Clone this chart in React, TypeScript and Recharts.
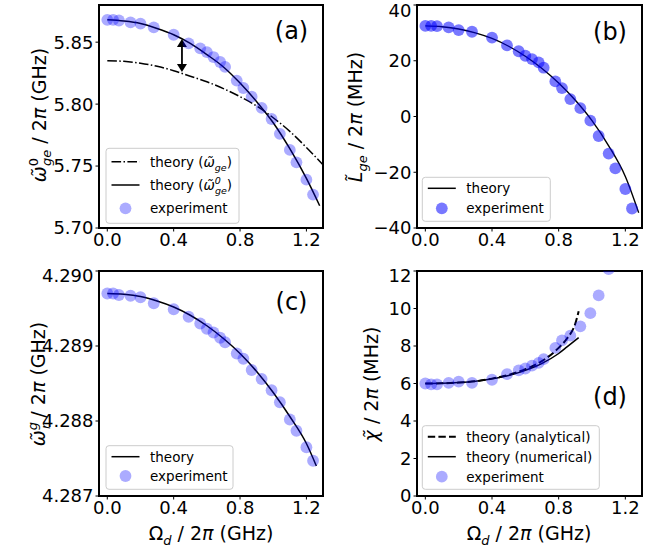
import React from "react";
import {
  ComposedChart,
  Scatter,
  Line,
  XAxis,
  YAxis,
  ReferenceArea,
  ReferenceLine,
} from "recharts";

// drive amplitudes (GHz) of the measured points
const drive = [
  0, 0.035, 0.07, 0.14, 0.2, 0.28, 0.4, 0.49, 0.56, 0.6, 0.64, 0.68, 0.71,
  0.78, 0.82, 0.87, 0.93, 0.99, 1.04, 1.1, 1.14, 1.2, 1.24,
];

// (a) qubit frequency
const omegaGeExp = [
  5.868, 5.868, 5.8675, 5.866, 5.865, 5.862, 5.856, 5.849, 5.845, 5.842, 5.838,
  5.834, 5.83, 5.819, 5.813, 5.806, 5.797, 5.788, 5.776, 5.763, 5.753, 5.739,
  5.727,
];
const omegaGe0X = [0, 0.1, 0.2, 0.3, 0.4, 0.5, 0.6, 0.7, 0.8, 0.9, 1.0, 1.1, 1.2, 1.28];
const omegaGe0Theory = [
  5.868, 5.867, 5.865, 5.861, 5.856, 5.849, 5.84, 5.83, 5.817, 5.802, 5.785,
  5.764, 5.74, 5.718,
];
const omegaGeX = [0, 0.1, 0.2, 0.3, 0.4, 0.5, 0.6, 0.7, 0.8, 0.9, 1.0, 1.1, 1.2, 1.3];
const omegaGeTheory = [
  5.835, 5.8345, 5.833, 5.8305, 5.827, 5.8225, 5.818, 5.8125, 5.806, 5.7985,
  5.789, 5.778, 5.765, 5.751,
];
const arrowX = 0.45;
const arrowLow = 5.826;
const arrowHigh = 5.8525;

// (b) Lamb shift
const lambExp = [
  32.5, 32.5, 32.4, 32, 31, 30.4, 28.3, 25.5, 23.4, 21.8, 20.6, 19.4, 17.5,
  12.6, 10.2, 6.25, 3.0, -1.5, -7.0, -13.3, -18.6, -26, -33,
];
const lambX = [0, 0.1, 0.2, 0.3, 0.4, 0.5, 0.6, 0.7, 0.8, 0.9, 1.0, 1.1, 1.2, 1.28];
const lambTheory = [
  32.5, 32.2, 31.4, 30.0, 28.0, 25.2, 21.6, 17.2, 12.0, 5.8, -1.5, -10.5, -21.5,
  -34.5,
];

// (c) resonator frequency
const omegaRExp = [
  4.2897, 4.2897, 4.28968, 4.28967, 4.28965, 4.28957, 4.28949, 4.28939,
  4.2893, 4.28923, 4.28918, 4.28911, 4.28905, 4.2889, 4.28883, 4.28868,
  4.28856, 4.28841, 4.28825, 4.28802, 4.28787, 4.28765, 4.28747,
];
const omegaRX = [0, 0.1, 0.2, 0.3, 0.4, 0.5, 0.6, 0.7, 0.8, 0.9, 1.0, 1.1, 1.2, 1.26];
const omegaRTheory = [
  4.2897, 4.28969, 4.28966, 4.2896, 4.28952, 4.28941, 4.28927, 4.2891, 4.2889,
  4.28866, 4.28838, 4.28806, 4.2877, 4.2874,
];

// (d) dispersive shift
const chiExp = [
  6.0, 5.95, 5.95, 6.03, 6.1, 6.03, 6.2, 6.5, 6.7, 6.8, 6.95, 7.1, 7.3, 7.9,
  8.3, 8.55, 9.05, 9.75, 10.7, 12.1,
];
const chiNumX = [0, 0.1, 0.2, 0.3, 0.4, 0.5, 0.6, 0.7, 0.8, 0.85, 0.92];
const chiNum = [6.0, 6.01, 6.05, 6.12, 6.25, 6.43, 6.7, 7.07, 7.6, 7.95, 8.45];
const chiAnaX = [0, 0.1, 0.2, 0.3, 0.4, 0.5, 0.6, 0.7, 0.8, 0.85, 0.9, 0.92];
const chiAna = [6.0, 6.01, 6.05, 6.12, 6.26, 6.46, 6.76, 7.2, 7.9, 8.4, 9.2, 9.85];

const xTicks = [0, 0.4, 0.8, 1.2];
const xDomain = [-0.05, 1.3];

const FONT = "DejaVu Sans";
const BLUE = "#0000ff";
const DASHED = "7.4 3.2";
const DASHDOT = "9.6 2.4 1.5 2.4";

const pts = (xs: number[], ys: number[]) => ys.map((y, i) => ({ x: xs[i], y }));

const dot = (opacity: number) => (p: any) => (
  <circle cx={p.cx} cy={p.cy} r={5.9} fill={BLUE} fillOpacity={opacity} />
);

const minus = (v: number) => (v < 0 ? "\u2212" + Math.abs(v) : String(v));

function Panel({
  left,
  top,
  height,
  margin,
  yDomain,
  yTicks,
  fmtY,
  children,
}: any) {
  const tick = { fill: "#000", fontSize: 18, fontFamily: FONT };
  return (
    <div style={{ position: "absolute", left, top }}>
      <ComposedChart width={334} height={height} margin={margin}>
        <XAxis
          type="number"
          dataKey="x"
          domain={xDomain}
          ticks={xTicks}
          tickFormatter={(v) => v.toFixed(1)}
          allowDataOverflow
          height={30}
          tickSize={3.5}
          tickMargin={2}
          axisLine={false}
          tickLine={{ stroke: "#000" }}
          tick={tick}
        />
        <YAxis
          type="number"
          dataKey="y"
          domain={yDomain}
          ticks={yTicks}
          tickFormatter={fmtY}
          allowDataOverflow
          width={60}
          tickSize={3.5}
          tickMargin={2}
          axisLine={false}
          tickLine={{ stroke: "#000" }}
          tick={tick}
        />
        <ReferenceArea
          x1={xDomain[0]}
          x2={xDomain[1]}
          y1={yDomain[0]}
          y2={yDomain[1]}
          fill="none"
          fillOpacity={0}
          stroke="#000"
          strokeWidth={2}
          ifOverflow="visible"
        />
        {children}
      </ComposedChart>
    </div>
  );
}

function Handle({ x, y, kind, opacity }: any) {
  if (kind === "dot")
    return <circle cx={x + 14} cy={y} r={5.9} fill={BLUE} fillOpacity={opacity} />;
  const dash = kind === "dashdot" ? DASHDOT : kind === "dash" ? DASHED : undefined;
  return (
    <line
      x1={x}
      x2={x + 28}
      y1={y}
      y2={y}
      stroke="#000"
      strokeWidth={kind === "dash" ? 2 : 1.5}
      strokeDasharray={dash}
    />
  );
}

function LegendBox({ x, y, w, h, rows }: any) {
  return (
    <g>
      <rect x={x} y={y} width={w} height={h} rx={3} fill="#fff" fillOpacity={0.8} stroke="#cccccc" strokeWidth={1} />
      {rows.map((r: any, i: number) => (
        <g key={i}>
          <Handle x={x + 5.5} y={y + r.dy} kind={r.kind} opacity={r.opacity} />
          <text x={x + 44} y={y + r.dy + 5} fontSize={13.5} fontFamily={FONT} fill="#000">
            {r.label}
          </text>
        </g>
      ))}
    </g>
  );
}

const sub = (s: string, up = false) => (
  <tspan fontSize={9.5} fontStyle="italic" dy={up ? -6 : 4}>
    {s}
  </tspan>
);

export default function App() {
  const arrowShape = (p: any) => {
    const x = p.x1;
    const top = Math.min(p.y1, p.y2);
    const bot = Math.max(p.y1, p.y2);
    return (
      <g>
        <line x1={x} x2={x} y1={top + 6} y2={bot - 6} stroke="#000" strokeWidth={1.8} />
        <polygon points={`${x},${top} ${x - 5},${top + 8} ${x + 5},${top + 8}`} fill="#000" />
        <polygon points={`${x},${bot} ${x - 5},${bot - 8} ${x + 5},${bot - 8}`} fill="#000" />
      </g>
    );
  };

  return (
    <div style={{ position: "absolute", left: 0, top: 0, width: 668, height: 550, background: "#fff" }}>
      {/* (a) */}
      <Panel
        left={0}
        top={0}
        height={275}
        margin={{ top: 5, right: 11, bottom: 17, left: 39 }}
        yDomain={[5.7, 5.88]}
        yTicks={[5.7, 5.75, 5.8, 5.85]}
        fmtY={(v: number) => v.toFixed(2)}
      >
        <Line data={pts(omegaGeX, omegaGeTheory)} dataKey="y" type="monotone" dot={false} stroke="#000" strokeWidth={1.5} strokeDasharray={DASHDOT} isAnimationActive={false} />
        <Scatter data={pts(drive, omegaGeExp)} dataKey="y" shape={dot(0.33)} isAnimationActive={false} />
        <Line data={pts(omegaGe0X, omegaGe0Theory)} dataKey="y" type="monotone" dot={false} stroke="#000" strokeWidth={1.5} isAnimationActive={false} />
        <ReferenceLine segment={[{ x: arrowX, y: arrowLow }, { x: arrowX, y: arrowHigh }]} shape={arrowShape} />
      </Panel>

      {/* (b) */}
      <Panel
        left={334}
        top={0}
        height={275}
        margin={{ top: 5, right: 26, bottom: 17, left: 23 }}
        yDomain={[-40, 40]}
        yTicks={[-40, -20, 0, 20, 40]}
        fmtY={minus}
      >
        <Scatter data={pts(drive, lambExp)} dataKey="y" shape={dot(0.53)} isAnimationActive={false} />
        <Line data={pts(lambX, lambTheory)} dataKey="y" type="monotone" dot={false} stroke="#000" strokeWidth={1.4} isAnimationActive={false} />
      </Panel>

      {/* (c) */}
      <Panel
        left={0}
        top={265}
        height={285}
        margin={{ top: 6, right: 11, bottom: 24, left: 39 }}
        yDomain={[4.287, 4.29]}
        yTicks={[4.287, 4.288, 4.289, 4.29]}
        fmtY={(v: number) => v.toFixed(3)}
      >
        <Scatter data={pts(drive, omegaRExp)} dataKey="y" shape={dot(0.33)} isAnimationActive={false} />
        <Line data={pts(omegaRX, omegaRTheory)} dataKey="y" type="monotone" dot={false} stroke="#000" strokeWidth={1.5} isAnimationActive={false} />
      </Panel>

      {/* (d) */}
      <Panel
        left={334}
        top={265}
        height={285}
        margin={{ top: 6, right: 26, bottom: 24, left: 23 }}
        yDomain={[0, 12]}
        yTicks={[0, 2, 4, 6, 8, 10, 12]}
        fmtY={(v: number) => String(v)}
      >
        <Scatter data={pts(drive, chiExp)} dataKey="y" shape={dot(0.33)} isAnimationActive={false} />
        <Line data={pts(chiNumX, chiNum)} dataKey="y" type="monotone" dot={false} stroke="#000" strokeWidth={1.5} isAnimationActive={false} />
        <Line data={pts(chiAnaX, chiAna)} dataKey="y" type="monotone" dot={false} stroke="#000" strokeWidth={2} strokeDasharray={DASHED} isAnimationActive={false} />
      </Panel>

      {/* labels, titles and legends */}
      <svg width={668} height={550} style={{ position: "absolute", left: 0, top: 0, pointerEvents: "none" }} fontFamily={FONT}>
        <text x={291.5} y={38.5} fontSize={24} textAnchor="middle">(a)</text>
        <text x={610} y={40} fontSize={24} textAnchor="middle">(b)</text>
        <text x={291.5} y={310} fontSize={24} textAnchor="middle">(c)</text>
        <text x={610} y={405} fontSize={24} textAnchor="middle">(d)</text>

        <text transform="rotate(-90 46 115)" x={46} y={115} fontSize={19} textAnchor="middle">
          <tspan fontStyle="italic">ω̃</tspan>
          <tspan fontSize={13} dy={-8}>0</tspan>
          <tspan fontSize={13} fontStyle="italic" dx={-8} dy={13}>ge</tspan>
          <tspan dy={-5}>{" / 2"}</tspan>
          <tspan fontStyle="italic">π</tspan>
          <tspan>{" (GHz)"}</tspan>
        </text>
        <text transform="rotate(-90 362 117)" x={362} y={117} fontSize={19} textAnchor="middle">
          <tspan fontStyle="italic">L̃</tspan>
          <tspan fontSize={13} fontStyle="italic" dy={5}>ge</tspan>
          <tspan dy={-5}>{" / 2"}</tspan>
          <tspan fontStyle="italic">π</tspan>
          <tspan>{" (MHz)"}</tspan>
        </text>
        <text transform="rotate(-90 45 384)" x={45} y={384} fontSize={19} textAnchor="middle">
          <tspan fontStyle="italic">ω̃</tspan>
          <tspan fontSize={13} fontStyle="italic" dy={-8}>g</tspan>
          <tspan fontSize={13} fontStyle="italic" dx={-7} dy={13}>r</tspan>
          <tspan dy={-5}>{" / 2"}</tspan>
          <tspan fontStyle="italic">π</tspan>
          <tspan>{" (GHz)"}</tspan>
        </text>
        <text transform="rotate(-90 378 384)" x={378} y={384} fontSize={19} textAnchor="middle">
          <tspan fontStyle="italic">χ̃</tspan>
          <tspan>{" / 2"}</tspan>
          <tspan fontStyle="italic">π</tspan>
          <tspan>{" (MHz)"}</tspan>
        </text>

        {[211, 529].map((cx) => (
          <text key={cx} x={cx} y={540} fontSize={19} textAnchor="middle">
            <tspan>Ω</tspan>
            <tspan fontSize={13} fontStyle="italic" dy={5}>d</tspan>
            <tspan dy={-5}>{" / 2"}</tspan>
            <tspan fontStyle="italic">π</tspan>
            <tspan>{" (GHz)"}</tspan>
          </text>
        ))}

        <LegendBox
          x={106}
          y={148.3}
          w={133}
          h={75}
          rows={[
            { kind: "dashdot", dy: 13.4, label: <>theory (<tspan fontStyle="italic">ω̃</tspan>{sub("ge")}<tspan dy={-4}>)</tspan></> },
            { kind: "line", dy: 36.7, label: <>theory (<tspan fontStyle="italic">ω̃</tspan>{sub("0", true)}<tspan fontSize={9.5} fontStyle="italic" dx={-6} dy={10}>ge</tspan><tspan dy={-4}>)</tspan></> },
            { kind: "dot", dy: 60, opacity: 0.33, label: "experiment" },
          ]}
        />
        <LegendBox
          x={422.3}
          y={177.3}
          w={128}
          h={44}
          rows={[
            { kind: "line", dy: 11, label: "theory" },
            { kind: "dot", dy: 31, opacity: 0.53, label: "experiment" },
          ]}
        />
        <LegendBox
          x={106}
          y={445.7}
          w={127}
          h={43.6}
          rows={[
            { kind: "line", dy: 11, label: "theory" },
            { kind: "dot", dy: 30.3, opacity: 0.33, label: "experiment" },
          ]}
        />
        <LegendBox
          x={422.3}
          y={425.7}
          w={177}
          h={63.6}
          rows={[
            { kind: "dash", dy: 11, label: "theory (analytical)" },
            { kind: "line", dy: 31, label: "theory (numerical)" },
            { kind: "dot", dy: 51, opacity: 0.33, label: "experiment" },
          ]}
        />
      </svg>
    </div>
  );
}
